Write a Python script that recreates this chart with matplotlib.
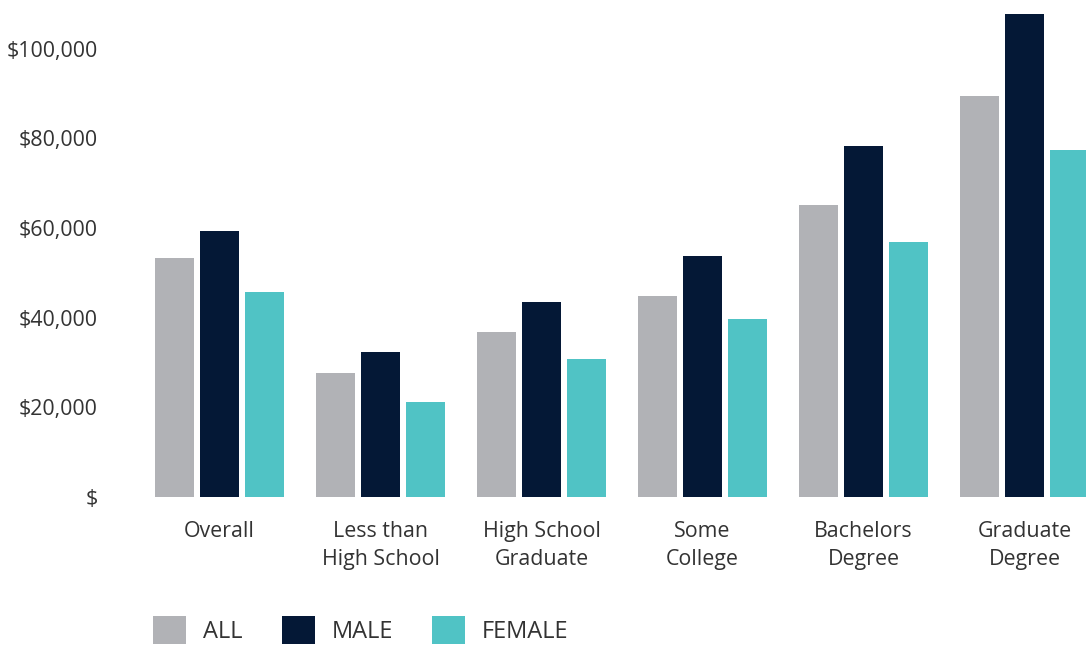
import matplotlib
matplotlib.use('Agg')
import matplotlib.pyplot as plt
from matplotlib.patches import Patch
from matplotlib.ticker import FuncFormatter
import numpy as np

plt.rcParams['font.family'] = ['Open Sans', 'DejaVu Sans']

# Median earnings by education level
categories = ['Overall', 'Less than\nHigh School', 'High School\nGraduate',
              'Some\nCollege', 'Bachelors\nDegree', 'Graduate\nDegree']
series_names = ['ALL', 'MALE', 'FEMALE']
all_vals = [53300, 27700, 36800, 44900, 65200, 89500]
male_vals = [59400, 32400, 43500, 53800, 78400, 107800]
female_vals = [45800, 21200, 30800, 39700, 56900, 77500]
yticks = [0, 20000, 40000, 60000, 80000, 100000]

colors = ['#B1B2B6', '#041836', '#50C3C5']
text_color = '#333333'

fig = plt.figure(figsize=(10.86, 6.46), dpi=100)
ax = fig.add_axes([145 / 1086, 1 - 497 / 646, 1 - 145 / 1086, 497 / 646])

x = np.arange(len(categories))
width = 0.243
step = 0.282
for i, (vals, c) in enumerate(zip([all_vals, male_vals, female_vals], colors)):
    ax.bar(x + (i - 1) * step, vals, width=width, color=c, linewidth=0)

ax.set_xlim(-0.463, 5.382)
ax.set_ylim(0, 110900)
ax.set_yticks(yticks)
ax.yaxis.set_major_formatter(FuncFormatter(lambda v, p: '$' if v == 0 else f'${v:,.0f}'))
ax.set_xticks(x)
ax.set_xticklabels(categories, linespacing=1.45)
ax.tick_params(axis='both', length=0, labelsize=15.4, colors=text_color)
ax.tick_params(axis='y', pad=34)
ax.tick_params(axis='x', pad=17)
for s in ax.spines.values():
    s.set_visible(False)

handles = [Patch(facecolor=c, edgecolor='none', label=n) for c, n in zip(colors, series_names)]
leg = fig.legend(handles=handles, loc='center left', bbox_to_anchor=(153 / 1086, 16 / 646),
                 ncol=3, frameon=False, fontsize=17, handlelength=1.4, handleheight=1.4,
                 handletextpad=0.72, columnspacing=1.65, borderpad=0, borderaxespad=0)
for t in leg.get_texts():
    t.set_color(text_color)

plt.savefig('out.png', dpi=100)
